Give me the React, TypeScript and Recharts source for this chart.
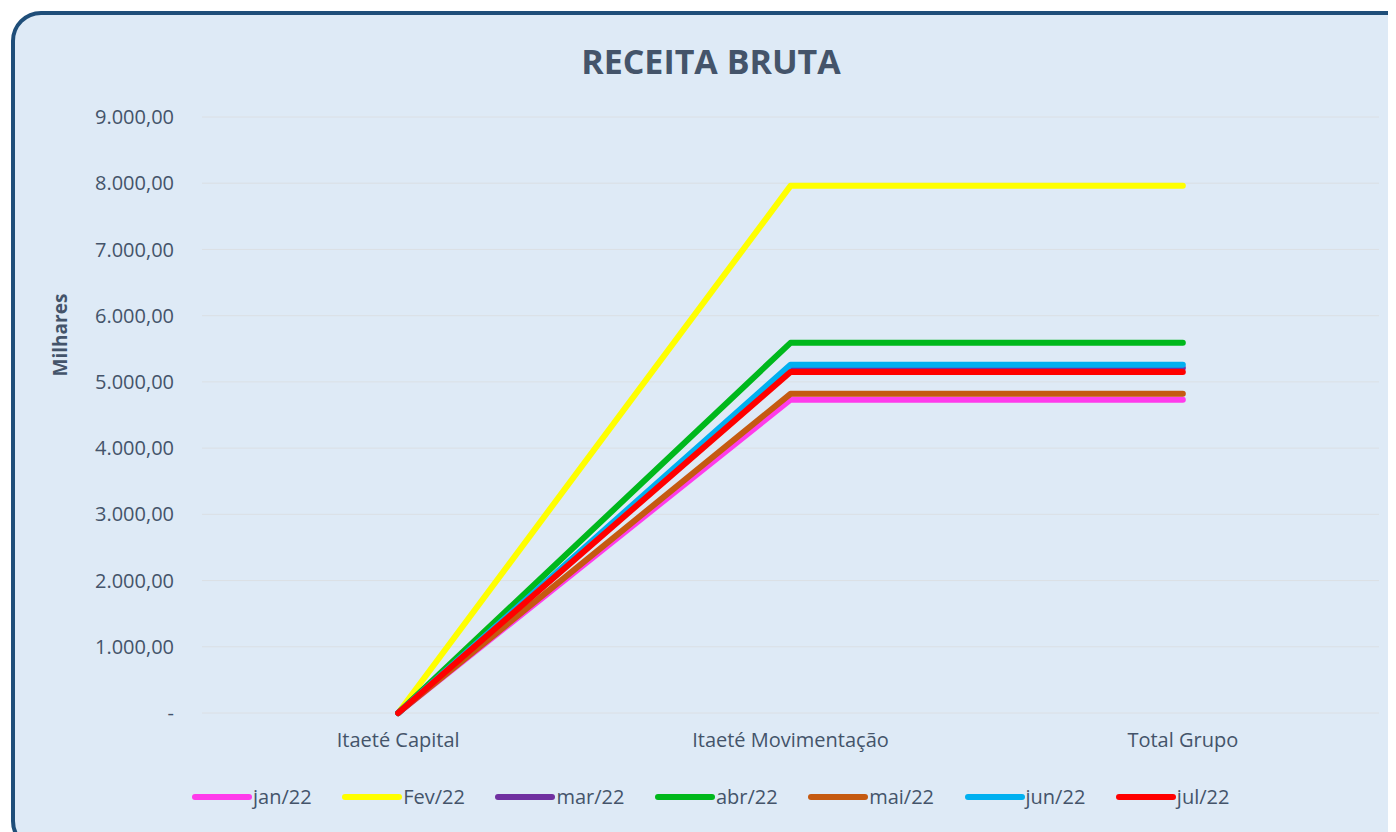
import React from "react";
import { LineChart, Line, XAxis, YAxis, CartesianGrid } from "recharts";

const categories = ["Itaeté Capital", "Itaeté Movimentação", "Total Grupo"];

const jan22 = [0, 4730, 4730];
const fev22 = [0, 7960, 7960];
const mar22 = [0, 5210, 5210];
const abr22 = [0, 5590, 5590];
const mai22 = [0, 4820, 4820];
const jun22 = [0, 5260, 5260];
const jul22 = [0, 5150, 5150];

const yTicks = [0, 1000, 2000, 3000, 4000, 5000, 6000, 7000, 8000, 9000];

const series = [
  { key: "jan/22", values: jan22, color: "#FF3BEB" },
  { key: "Fev/22", values: fev22, color: "#FFFF00" },
  { key: "mar/22", values: mar22, color: "#7030A0" },
  { key: "abr/22", values: abr22, color: "#00B81C" },
  { key: "mai/22", values: mai22, color: "#C55A11" },
  { key: "jun/22", values: jun22, color: "#00B0F0" },
  { key: "jul/22", values: jul22, color: "#FF0000" },
];

const data = categories.map((name, i) => {
  const row: any = { name, pos: i + 0.5 };
  series.forEach((s) => (row[s.key] = s.values[i]));
  return row;
});

const FONT = "'Open Sans', sans-serif";
const TEXT = "#44546A";

const fmt = (v: number) => {
  if (v === 0) return "-";
  const s = Math.round(v).toString().replace(/\B(?=(\d{3})+(?!\d))/g, ".");
  return s + ",00";
};

export default function App() {
  return (
    <div
      style={{
        position: "relative",
        width: 1396,
        height: 832,
        margin: "-8px 0 0 -8px",
        overflow: "hidden",
        background: "#ffffff",
        fontFamily: FONT,
      }}
    >
      <div
        style={{
          position: "absolute",
          left: 11,
          top: 11,
          width: 1420,
          height: 840,
          boxSizing: "border-box",
          border: "4px solid #1F4E79",
          borderRadius: 30,
          background: "#DEEAF6",
        }}
      />
      <div
        style={{
          position: "absolute",
          left: 0,
          width: 1422,
          top: 38,
          textAlign: "center",
          fontSize: 34,
          fontWeight: 700,
          color: TEXT,
        }}
      >
        RECEITA BRUTA
      </div>
      <div
        style={{
          position: "absolute",
          left: 60,
          top: 335,
          transform: "translate(-50%, -50%) rotate(-90deg)",
          fontSize: 19,
          fontWeight: 700,
          color: TEXT,
          whiteSpace: "nowrap",
        }}
      >
        Milhares
      </div>
      <div style={{ position: "absolute", left: 0, top: 0 }}>
        <LineChart
          width={1396}
          height={832}
          data={data}
          margin={{ top: 117, right: 17, bottom: 40, left: 0 }}
        >
          <CartesianGrid vertical={false} stroke="#D9D9D9" strokeOpacity={0.6} />
          <XAxis
            xAxisId="ticks"
            type="number"
            dataKey="pos"
            domain={[0, 3]}
            ticks={[0, 1, 2, 3]}
            tick={false}
            tickSize={8}
            axisLine={{ stroke: "#D9D9D9" }}
            tickLine={{ stroke: "#D9D9D9" }}
            height={0}
          />
          <XAxis
            xAxisId="cat"
            dataKey="name"
            scale="band"
            axisLine={false}
            tickLine={false}
            tickSize={0}
            tickMargin={20}
            height={79}
            tick={{ fontFamily: FONT, fontSize: 20, fill: TEXT }}
          />
          <YAxis
            domain={[0, 9000]}
            ticks={yTicks}
            tickFormatter={fmt}
            width={202}
            axisLine={false}
            tickLine={false}
            tickSize={0}
            tickMargin={28}
            tick={{ fontFamily: FONT, fontSize: 20, fill: TEXT }}
            interval={0}
          />
          {series.map((s) => (
            <Line
              key={s.key}
              xAxisId="cat"
              dataKey={s.key}
              stroke={s.color}
              strokeWidth={6}
              strokeLinecap="round"
              strokeLinejoin="round"
              dot={false}
              activeDot={false}
              isAnimationActive={false}
            />
          ))}
        </LineChart>
      </div>
      <div
        style={{
          position: "absolute",
          left: 191,
          top: 783,
          display: "flex",
          alignItems: "center",
          fontSize: 20,
          color: TEXT,
        }}
      >
        {series.map((s) => (
          <div key={s.key} style={{ display: "flex", alignItems: "center", marginRight: 29.5 }}>
            <svg width={62} height={10}>
              <line x1={4} y1={5} x2={58} y2={5} stroke={s.color} strokeWidth={6} strokeLinecap="round" />
            </svg>
            <span>{s.key}</span>
          </div>
        ))}
      </div>
    </div>
  );
}
